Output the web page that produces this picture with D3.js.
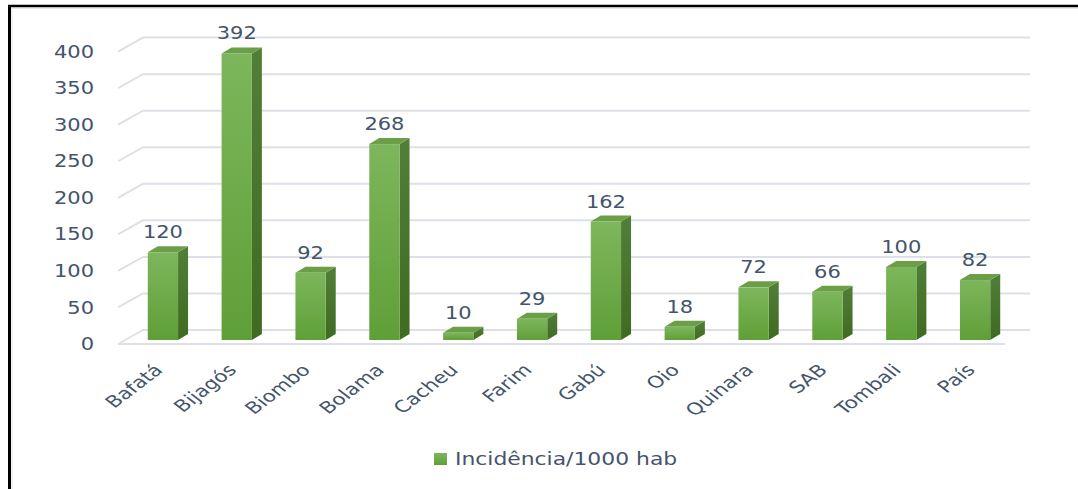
<!DOCTYPE html>
<html>
<head>
<meta charset="utf-8">
<script src="https://cdn.jsdelivr.net/npm/d3@7/dist/d3.min.js"></script>
<style>
  html, body { margin: 0; padding: 0; background: #fff; }
  svg { display: block; }
  text { font-family: "DejaVu Sans", Verdana, sans-serif; fill: #44546a; }
</style>
</head>
<body>
<svg id="chart" width="1078" height="489"></svg>
<script>
// Incidência por região (por 1000 habitantes)
const regions = ["Bafatá", "Bijagós", "Biombo", "Bolama", "Cacheu", "Farim",
                 "Gabú", "Oio", "Quinara", "SAB", "Tombali", "País"];
const incidence = [120, 392, 92, 268, 10, 29, 162, 18, 72, 66, 100, 82];
const yTicks = [0, 50, 100, 150, 200, 250, 300, 350, 400];
const seriesName = "Incidência/1000 hab";

const svg = d3.select("#chart");
const textStretch = 1.2;   // wide lettering

// Frame
svg.append("line").attr("x1", 8).attr("y1", 6).attr("x2", 1078).attr("y2", 6)
  .attr("stroke", "#000").attr("stroke-width", 2.5);
svg.append("line").attr("x1", 9.5).attr("y1", 6).attr("x2", 9.5).attr("y2", 489)
  .attr("stroke", "#000").attr("stroke-width", 3);
svg.append("line").attr("x1", 12).attr("y1", 8).attr("x2", 12).attr("y2", 489)
  .attr("stroke", "#e3e7ec").attr("stroke-width", 1);
svg.append("line").attr("x1", 11).attr("y1", 8.5).attr("x2", 1078).attr("y2", 8.5)
  .attr("stroke", "#e3e7ec").attr("stroke-width", 1);

// Scales: y gives the bar base plane; grid sits behind, tick labels in front
const y = d3.scaleLinear().domain([0, 400]).range([340, 47.6]);
const x = d3.scaleBand().domain(regions).range([126, 1012])
  .paddingInner(0.59).paddingOuter(0.295);

const depthX = 25;
const gridFront = v => y(v) + 4;
const gridBack = v => y(v) - 10;
const wallLeft = 118;
const wallRight = 1005;

// Gridlines (side wall diagonal + back wall horizontal)
const grid = svg.append("g").attr("fill", "none").attr("stroke", "#dde1e7").attr("stroke-width", 2);
yTicks.forEach(v => {
  grid.append("path")
    .attr("d", `M${wallLeft},${gridFront(v)}L${wallLeft + depthX},${gridBack(v)}L${wallRight + depthX},${gridBack(v)}`);
});
// Floor front edge
grid.append("line")
  .attr("x1", wallLeft).attr("y1", gridFront(0))
  .attr("x2", wallRight).attr("y2", gridFront(0));

// Y tick labels
svg.append("g").selectAll("text").data(yTicks).join("text")
  .attr("transform", d => `translate(94,${gridFront(d)}) scale(${textStretch},1)`)
  .attr("dy", "0.35em")
  .attr("text-anchor", "end")
  .attr("font-size", 17.5)
  .text(d => d);

// Gradients
const defs = svg.append("defs");
const gFront = defs.append("linearGradient").attr("id", "gFront")
  .attr("x1", 0).attr("y1", 0).attr("x2", 0).attr("y2", 1);
gFront.append("stop").attr("offset", "0%").attr("stop-color", "#7db65c");
gFront.append("stop").attr("offset", "100%").attr("stop-color", "#5f9f37");
const gSide = defs.append("linearGradient").attr("id", "gSide")
  .attr("x1", 0).attr("y1", 0).attr("x2", 0).attr("y2", 1);
gSide.append("stop").attr("offset", "0%").attr("stop-color", "#527f37");
gSide.append("stop").attr("offset", "100%").attr("stop-color", "#3e6a22");
const legendGrad = defs.append("linearGradient").attr("id", "gLegend")
  .attr("x1", 0).attr("y1", 0).attr("x2", 0).attr("y2", 1);
legendGrad.append("stop").attr("offset", "0%").attr("stop-color", "#7db65c");
legendGrad.append("stop").attr("offset", "100%").attr("stop-color", "#5f9f37");

// 3D bars
const bdx = 10, bdy = 6;
const bars = svg.append("g").selectAll("g").data(regions).join("g");
bars.each(function (r, i) {
  const g = d3.select(this);
  const v = incidence[i];
  const x0 = x(r), w = x.bandwidth();
  const yt = y(v), yb = y(0);
  // side face
  g.append("path")
    .attr("d", `M${x0 + w},${yt}L${x0 + w + bdx},${yt - bdy}L${x0 + w + bdx},${yb - bdy}L${x0 + w},${yb}Z`)
    .attr("fill", "url(#gSide)");
  // top face
  g.append("path")
    .attr("d", `M${x0},${yt}L${x0 + bdx},${yt - bdy}L${x0 + w + bdx},${yt - bdy}L${x0 + w},${yt}Z`)
    .attr("fill", "#6a9f47");
  // front face
  g.append("rect")
    .attr("x", x0).attr("y", yt).attr("width", w).attr("height", yb - yt)
    .attr("fill", "url(#gFront)");
  // value label
  g.append("text")
    .attr("transform", `translate(${x0 + w / 2},${yt - 14}) scale(${textStretch},1)`)
    .attr("text-anchor", "middle")
    .attr("font-size", 17.5)
    .text(v);
});

// Category labels, rotated
svg.append("g").selectAll("text").data(regions).join("text")
  .attr("text-anchor", "end")
  .attr("font-size", 16.5)
  .attr("transform", d => `translate(${x(d) + x.bandwidth() / 2 + 1},${371}) scale(1.3,1) rotate(-45)`)
  .text(d => d);

// Legend
const legend = svg.append("g").attr("transform", "translate(434,453)");
legend.append("rect").attr("width", 13).attr("height", 12).attr("fill", "url(#gLegend)");
legend.append("text")
  .attr("transform", `translate(21,6) scale(1.25,1)`)
  .attr("dy", "0.35em")
  .attr("font-size", 17.5).text(seriesName);
</script>
</body>
</html>
